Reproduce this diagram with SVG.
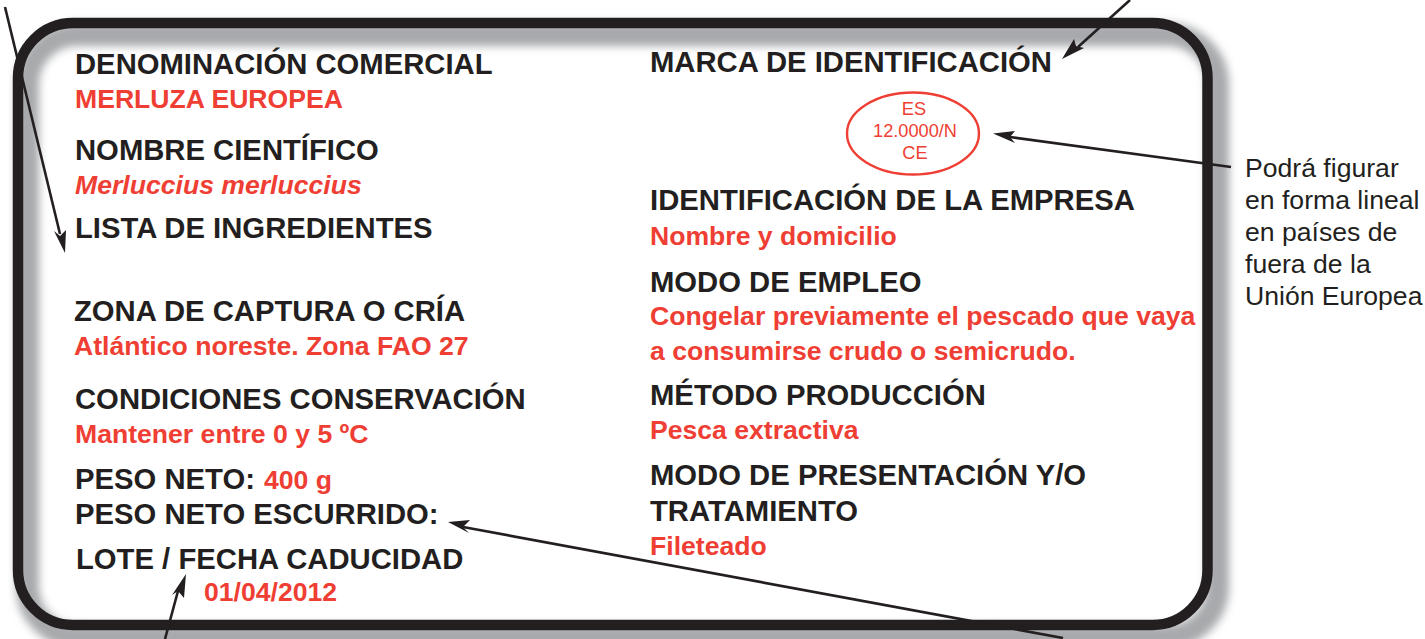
<svg xmlns="http://www.w3.org/2000/svg" width="1425" height="639" viewBox="0 0 1425 639">
<style>
text{font-family:"Liberation Sans",Arial,sans-serif}
.h{font-size:29.25px;font-weight:700;fill:#231f20}
.r{font-size:26.6px;font-weight:700;fill:#ef3e33}
.s{font-size:18.2px;fill:#ef3e33;text-anchor:middle}
.n{font-size:26.6px;fill:#231f20}
.l{stroke:#231f20;stroke-width:2.6;fill:none}
.a{fill:#231f20}
</style>
<defs><filter id="b" x="-5%" y="-5%" width="110%" height="110%"><feGaussianBlur stdDeviation="4.5"/></filter></defs>
<rect width="1425" height="639" fill="#fff"/>
<g id="panel">
<rect x="27.5" y="34.5" width="1190" height="602" rx="50" fill="none" stroke="#a7a9ac" stroke-width="23" filter="url(#b)"/>
<rect x="18" y="23" width="1189.5" height="602" rx="55" fill="none" stroke="#231f20" stroke-width="10.5"/>
</g>
<g id="left-fields">
<g id="denominacion"><text class="h" x="75" y="73.5">DENOMINACIÓN COMERCIAL</text><text class="r" x="75" y="108">MERLUZA EUROPEA</text></g>
<g id="nombre"><text class="h" x="75" y="159.5">NOMBRE CIENTÍFICO</text><text class="r" x="75" y="194" font-style="italic">Merluccius merluccius</text></g>
<g id="lista"><text class="h" x="75" y="237.5">LISTA DE INGREDIENTES</text></g>
<g id="zona"><text class="h" x="74" y="320.5">ZONA DE CAPTURA O CRÍA</text><text class="r" x="74" y="355">Atlántico noreste. Zona FAO 27</text></g>
<g id="condiciones"><text class="h" x="75" y="408.5">CONDICIONES CONSERVACIÓN</text><text class="r" x="75" y="443">Mantener entre 0 y 5 ºC</text></g>
<g id="peso"><text class="h" x="75" y="488.5">PESO NETO:</text><text class="r" x="264" y="488.5">400 g</text><text class="h" x="75" y="523.5">PESO NETO ESCURRIDO:</text></g>
<g id="lote"><text class="h" x="76" y="568.5">LOTE / FECHA CADUCIDAD</text><text class="r" x="204" y="601">01/04/2012</text></g>
</g>
<g id="right-fields">
<g id="marca"><text class="h" x="650" y="71.5">MARCA DE IDENTIFICACIÓN</text></g>
<g id="sello"><ellipse cx="913" cy="133.5" rx="66" ry="41" fill="none" stroke="#ef3e33" stroke-width="2.4"/><text class="s" x="914" y="115">ES</text><text class="s" x="915" y="137">12.0000/N</text><text class="s" x="915" y="159">CE</text></g>
<g id="empresa"><text class="h" x="650" y="209.5">IDENTIFICACIÓN DE LA EMPRESA</text><text class="r" x="650" y="245">Nombre y domicilio</text></g>
<g id="modo"><text class="h" x="650" y="291.5">MODO DE EMPLEO</text><text class="r" x="650" y="325">Congelar previamente el pescado que vaya</text><text class="r" x="650" y="360">a consumirse crudo o semicrudo.</text></g>
<g id="metodo"><text class="h" x="650" y="404.5">MÉTODO PRODUCCIÓN</text><text class="r" x="650" y="438.5">Pesca extractiva</text></g>
<g id="presentacion"><text class="h" x="650" y="484.5">MODO DE PRESENTACIÓN Y/O</text><text class="h" x="650" y="520.5">TRATAMIENTO</text><text class="r" x="650" y="555">Fileteado</text></g>
</g>
<g id="nota"><text class="n" x="1245" y="177">Podrá figurar</text><text class="n" x="1245" y="209">en forma lineal</text><text class="n" x="1245" y="241">en países de</text><text class="n" x="1245" y="273">fuera de la</text><text class="n" x="1245" y="305">Unión Europea</text></g>
<g id="connectors">
<path class="l" d="M5 7L60 234"/><path class="a" d="M65 253L54 231L60 236L66 230Z"/>
<path class="l" d="M1130 0L1078 47"/><path class="a" d="M1062 59L1074 39L1076 46L1084 48Z"/>
<path class="l" d="M1231 167L1010 137"/><path class="a" d="M993 133.5L1015 131L1010 137L1015 143Z"/>
<path class="l" d="M1063 638L463 527"/><path class="a" d="M448 522L470 520L463 527L469 533Z"/>
<path class="l" d="M165 639L178 591"/><path class="a" d="M186 574L184 598L178 591L172 595Z"/>
</g>
</svg>
